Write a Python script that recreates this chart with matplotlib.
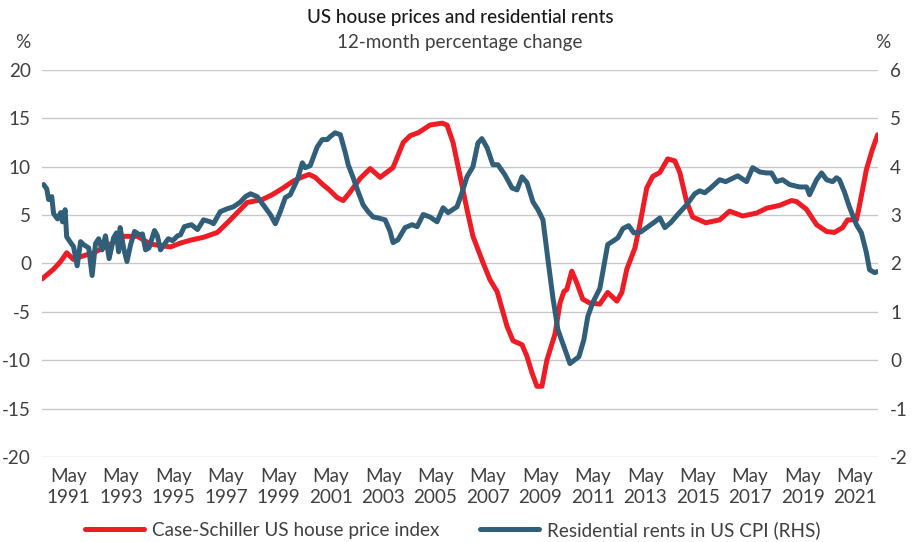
import matplotlib
matplotlib.use('Agg')
import matplotlib.pyplot as plt

plt.rcParams['font.family'] = ['Lato', 'DejaVu Sans']
plt.rcParams['axes.unicode_minus'] = False

# Case-Schiller US house price index, 12-month % change (LHS)
house_years = [1990.32, 1990.76, 1991.03, 1991.26, 1991.52, 1991.79, 1992.29, 1992.93, 1993.43,
               1993.96, 1994.46, 1995.22, 1995.60, 1995.98, 1996.48, 1997.01, 1997.50, 1998.15,
               1998.72, 1999.10, 1999.52, 1999.90, 2000.21, 2000.51, 2000.74, 2001.01, 2001.28,
               2001.58, 2001.81, 2002.08, 2002.46, 2002.84, 2003.22, 2003.71, 2004.10, 2004.36,
               2004.67, 2005.12, 2005.58, 2005.77, 2006.00, 2006.27, 2006.53, 2006.76, 2007.14,
               2007.41, 2007.68, 2008.06, 2008.29, 2008.63, 2008.82, 2009.01, 2009.20, 2009.39,
               2009.58, 2009.89, 2010.08, 2010.23, 2010.34, 2010.53, 2010.72, 2010.95, 2011.22,
               2011.60, 2011.90, 2012.25, 2012.44, 2012.63, 2012.94, 2013.14, 2013.39, 2013.62,
               2013.89, 2014.19, 2014.46, 2014.65, 2014.91, 2015.14, 2015.64, 2016.17, 2016.55,
               2017.05, 2017.58, 2017.96, 2018.46, 2018.91, 2019.10, 2019.48, 2019.87, 2020.25,
               2020.55, 2020.86, 2021.05, 2021.39, 2021.50, 2021.77, 2022.00, 2022.20]
house_vals = [-1.6, -0.6, 0.2, 1.1, 0.4, 0.7, 1.1, 2.0, 2.8,
              2.8, 2.0, 1.7, 2.1, 2.4, 2.7, 3.2, 4.5, 6.3,
              6.6, 7.1, 7.8, 8.5, 8.9, 9.2, 8.9, 8.2, 7.6,
              6.8, 6.5, 7.4, 8.8, 9.8, 8.9, 9.9, 12.5, 13.2,
              13.5, 14.3, 14.5, 14.3, 12.5, 9.0, 5.6, 2.8, 0.1,
              -1.7, -2.9, -6.5, -8.0, -8.4, -9.6, -11.3, -12.7, -12.7,
              -10.0, -7.3, -4.1, -2.9, -2.7, -0.8, -2.0, -3.7, -4.1,
              -4.2, -3.0, -3.9, -3.0, -0.6, 1.6, 4.2, 7.8, 9.0,
              9.4, 10.8, 10.6, 9.4, 6.4, 4.8, 4.2, 4.5, 5.4,
              4.9, 5.2, 5.7, 6.0, 6.5, 6.4, 5.6, 4.0, 3.3,
              3.2, 3.7, 4.5, 4.5, 5.9, 9.7, 11.8, 13.3]

# Residential rents in US CPI, 12-month % change (RHS)
rent_years = [1990.38, 1990.50, 1990.57, 1990.69, 1990.76, 1990.91, 1991.03, 1991.10, 1991.20,
              1991.26, 1991.41, 1991.52, 1991.66, 1991.79, 1991.90, 1992.10, 1992.23, 1992.36,
              1992.48, 1992.61, 1992.74, 1992.88, 1993.05, 1993.16, 1993.24, 1993.30, 1993.43,
              1993.56, 1993.70, 1993.85, 1994.04, 1994.15, 1994.27, 1994.40, 1994.61, 1994.72,
              1994.84, 1994.95, 1995.14, 1995.30, 1995.49, 1995.60, 1995.75, 1996.02, 1996.25,
              1996.48, 1996.74, 1996.86, 1997.12, 1997.39, 1997.62, 1997.89, 1998.08, 1998.27,
              1998.53, 1998.76, 1999.03, 1999.22, 1999.41, 1999.60, 1999.79, 2000.06, 2000.25,
              2000.36, 2000.55, 2000.82, 2001.01, 2001.20, 2001.31, 2001.50, 2001.70, 2001.89,
              2002.00, 2002.19, 2002.38, 2002.57, 2002.76, 2002.95, 2003.14, 2003.41, 2003.60,
              2003.71, 2003.90, 2004.17, 2004.44, 2004.63, 2004.86, 2005.12, 2005.39, 2005.62,
              2005.81, 2006.15, 2006.34, 2006.53, 2006.76, 2006.95, 2007.10, 2007.30, 2007.52,
              2007.71, 2007.98, 2008.25, 2008.44, 2008.63, 2008.82, 2009.05, 2009.24, 2009.43,
              2009.62, 2009.81, 2010.00, 2010.27, 2010.46, 2010.65, 2010.80, 2010.99, 2011.14,
              2011.33, 2011.60, 2011.75, 2011.90, 2012.13, 2012.29, 2012.48, 2012.70, 2012.90,
              2013.16, 2013.39, 2013.70, 2013.89, 2014.08, 2014.30, 2014.57, 2014.91, 2015.22,
              2015.41, 2015.60, 2015.83, 2016.17, 2016.40, 2016.63, 2016.86, 2017.20, 2017.43,
              2017.70, 2017.96, 2018.15, 2018.34, 2018.57, 2018.84, 2019.22, 2019.49, 2019.60,
              2019.87, 2020.06, 2020.25, 2020.48, 2020.63, 2020.74, 2020.93, 2021.12, 2021.39,
              2021.58, 2021.77, 2021.89, 2022.08, 2022.19]
rent_vals = [3.63, 3.54, 3.32, 3.38, 3.03, 2.92, 3.05, 2.86, 3.11,
             2.55, 2.43, 2.35, 1.95, 2.45, 2.39, 2.32, 1.75, 2.41,
             2.51, 2.28, 2.57, 2.10, 2.53, 2.63, 2.24, 2.74, 2.32,
             2.04, 2.39, 2.66, 2.59, 2.61, 2.28, 2.32, 2.68, 2.57,
             2.28, 2.37, 2.51, 2.47, 2.57, 2.59, 2.76, 2.80, 2.70,
             2.90, 2.86, 2.82, 3.07, 3.13, 3.17, 3.27, 3.38, 3.44,
             3.38, 3.21, 3.01, 2.82, 3.07, 3.36, 3.42, 3.73, 4.08,
             3.98, 4.02, 4.41, 4.56, 4.56, 4.62, 4.70, 4.66, 4.29,
             4.04, 3.77, 3.48, 3.21, 3.07, 2.96, 2.94, 2.90, 2.66,
             2.43, 2.49, 2.74, 2.80, 2.76, 3.01, 2.96, 2.86, 3.15,
             3.05, 3.17, 3.46, 3.79, 4.00, 4.49, 4.58, 4.39, 4.04,
             4.04, 3.83, 3.56, 3.52, 3.79, 3.67, 3.27, 3.11, 2.90,
             2.08, 1.29, 0.63, 0.22, -0.07, 0.01, 0.07, 0.42, 0.90,
             1.19, 1.48, 1.93, 2.39, 2.47, 2.53, 2.72, 2.78, 2.63,
             2.65, 2.74, 2.86, 2.94, 2.74, 2.84, 3.01, 3.21, 3.44,
             3.50, 3.46, 3.56, 3.73, 3.69, 3.75, 3.81, 3.69, 3.98,
             3.89, 3.87, 3.87, 3.69, 3.73, 3.63, 3.58, 3.58, 3.42,
             3.73, 3.87, 3.73, 3.69, 3.77, 3.73, 3.48, 3.17, 2.80,
             2.63, 2.22, 1.87, 1.81, 1.83]

tick_years = list(range(1991, 2022, 2))
tick_pos = [y + 4 / 12 for y in tick_years]
tick_labels = ['May\n%d' % y for y in tick_years]

red = '#EE1C25'
blue = '#315E78'
txt = '#404040'
fs = 13.6

fig = plt.figure(figsize=(9.2, 5.42), dpi=100)
ax = fig.add_axes([0.0457, 0.157, 0.9083, 0.714])
ax2 = ax.twinx()

ax.plot(house_years, house_vals, color=red, lw=3.6, solid_capstyle='round',
        label='Case-Schiller US house price index')
ax2.plot(rent_years, rent_vals, color=blue, lw=3.6, solid_capstyle='round',
         label='Residential rents in US CPI (RHS)')

ax.set_xlim(1990.32, 2022.2)
ax.set_ylim(-20, 20)
ax2.set_ylim(-2, 6)
ax.set_yticks(range(-20, 25, 5))
ax2.set_yticks(range(-2, 7))
ax.set_xticks(tick_pos)
ax.set_xticklabels(tick_labels)

ax.grid(axis='y', color='#C8C8C8', lw=1)
ax.set_axisbelow(True)
for a in (ax, ax2):
    for s in a.spines.values():
        s.set_visible(False)
    a.tick_params(length=0, labelsize=fs, colors=txt)
ax.tick_params(axis='y', pad=8)
ax2.tick_params(axis='y', pad=9)
ax.tick_params(axis='x', pad=8)
for lab in ax.get_xticklabels():
    lab.set_linespacing(1.3)

fig.text(0.5, 0.968, 'US house prices and residential rents', ha='center', va='center',
         fontsize=fs, color='#1a1a1a', fontweight='medium')
fig.text(0.5, 0.921, '12-month percentage change', ha='center', va='center',
         fontsize=fs, color=txt)
fig.text(0.025, 0.921, '%', ha='center', va='center', fontsize=fs, color=txt)
fig.text(0.96, 0.921, '%', ha='center', va='center', fontsize=fs, color=txt)

h1, l1 = ax.get_legend_handles_labels()
h2, l2 = ax2.get_legend_handles_labels()
fig.legend(h1 + h2, l1 + l2, loc='center', bbox_to_anchor=(0.4925, 0.022), ncol=2,
           frameon=False, fontsize=fs, handlelength=3.1, handletextpad=0.45,
           columnspacing=2.15, labelcolor=txt)

fig.savefig('out.png', dpi=100)
